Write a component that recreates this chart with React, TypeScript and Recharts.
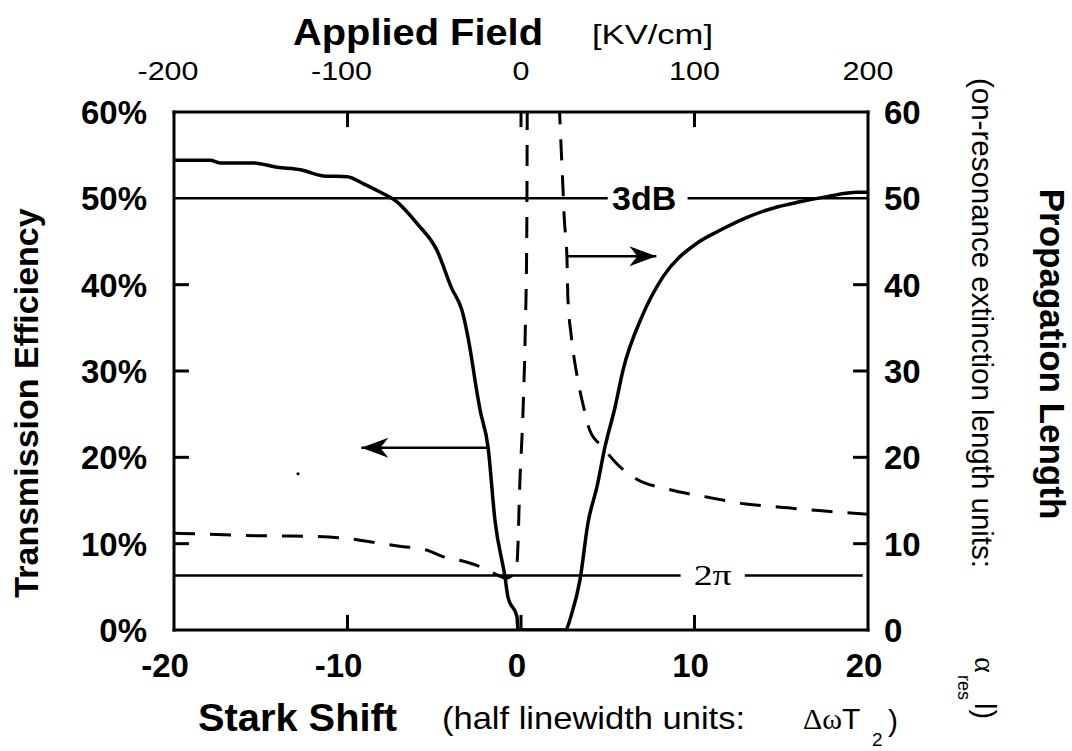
import React from 'react';
import { LineChart, Line, XAxis, YAxis, ReferenceLine, ReferenceDot } from 'recharts';

// transmission efficiency (left axis, %) vs stark shift
const solidShift = [-20, -17.9, -17.35, -15.45, -14.06, -12.7, -11.4, -10.0, -9.1, -8.1, -7.15, -6.0, -4.85, -4.0, -3.4, -2.8, -2.65, -2.36, -1.9, -1.5, -0.92, -0.75, -0.23, -0.17, 2.54, 2.94, 3.4, 3.86, 4.38, 4.84, 5.42, 5.88, 6.97, 8.18, 10.14, 11.47, 13.03, 14.76, 16.08, 17.64, 19.37, 20];
const solidEff = [54.4, 54.4, 54.1, 54.1, 53.6, 53.3, 52.6, 52.5, 51.7, 50.7, 49.6, 47.1, 44.0, 39.6, 37.0, 30.9, 28.9, 25.5, 21.2, 12.7, 6.1, 3.8, 1.5, 0, 0, 2.0, 5.8, 12.4, 16.6, 21.2, 25.8, 30.1, 36.3, 40.9, 44.8, 46.3, 47.8, 49.0, 49.6, 50.2, 50.7, 50.7];

// propagation length (right axis), branch below resonance
const dashLeftShift = [-20, -18, -16, -14, -12, -10, -8.5, -7, -5.5, -4.5, -3.2, -2.2, -1.4, -0.9, -0.5, -0.23, -0.06, 0.12, 0.25, 0.33, 0.36];
const dashLeftLen = [11.2, 11.1, 10.95, 10.9, 10.85, 10.6, 10.15, 9.7, 9.3, 8.5, 7.9, 7.2, 6.4, 6.0, 6.3, 7.8, 17.4, 25.5, 35, 45, 61];

// propagation length, branch above resonance
const dashRightShift = [2.2, 2.4, 2.5, 2.65, 2.7, 2.9, 3.2, 3.65, 3.95, 4.7, 5.55, 6.65, 8.5, 10.7, 12.95, 15.1, 17.35, 20];
const dashRightLen = [61, 52, 47.5, 43, 38.6, 34, 29.8, 25.5, 23.2, 21.2, 19.2, 17.5, 16.3, 15.4, 14.6, 14.2, 13.8, 13.4];

const bottomTicks = [-20, -10, 0, 10, 20];
const topTicks = [-200, -100, 0, 100, 200];
const leftTicks = [0, 10, 20, 30, 40, 50, 60];
const rightTicks = [0, 10, 20, 30, 40, 50, 60];
// inner tick marks: positions on the stark shift axis and on the level axes
const shiftMarks = [-10, 0, 10];
const levelMarks = [10, 20, 30, 40];
const markLenX = 0.86; // about 15px in stark shift units
const markLenY = 1.75; // about 15px in level units

const threeDb = 50;
const twoPi = 6.3;
const threeDbGap = [5.0, 9.6];
const threeDbLabelAt = 7.1;
const twoPiGap = [9.2, 12.9];
const twoPiEnd = 19.7;
const twoPiLabelAt = 11.05;

// arrows: [from shift, to shift, level]
const leftArrow = [-1.9, -9.2, 21.1];
const rightArrow = [2.7, 7.8, 43.3];
const speck = [-12.85, 18.1];

const zip = (xs: number[], ys: number[]) => xs.map((x, i) => ({ x, y: ys[i] }));
const solidData = zip(solidShift, solidEff);
const dashLeftData = zip(dashLeftShift, dashLeftLen);
const dashRightData = zip(dashRightShift, dashRightLen);

// tick marks as short two-point segments in data units
const tickSegments = [
  ...shiftMarks.map((s) => [{ x: s, y: 0 }, { x: s, y: markLenY }]),
  ...shiftMarks.map((s) => [{ x: s, y: 60 }, { x: s, y: 60 - markLenY }]),
  ...levelMarks.map((l) => [{ x: -20, y: l }, { x: -20 + markLenX, y: l }]),
  ...levelMarks.map((l) => [{ x: 20 - markLenX, y: l }, { x: 20, y: l }]),
];

const SANS = '"Liberation Sans", Arial, Helvetica, sans-serif';
const SERIF = '"Liberation Serif", "Times New Roman", serif';
const INK = '#000';
const axisStyle = { stroke: INK, strokeWidth: 3, strokeLinecap: 'square' as const };

function BottomTick({ x, y, payload }: any) {
  const v = Number(payload.value);
  return (
    <text x={x} y={y + 47} dx={v < 0 ? -9 : -4} textAnchor="middle" fontFamily={SANS} fontWeight="bold" fontSize={33} fill={INK}>
      {v}
    </text>
  );
}

function TopTick({ x, y, payload }: any) {
  const v = Number(payload.value);
  return (
    <text transform={`translate(${x + (v < 0 ? -6 : 0)},${y - 32}) scale(1.22,1)`} textAnchor="middle" fontFamily={SANS} fontSize={25} fill={INK}>
      {v}
    </text>
  );
}

function LeftTick({ x, y, payload }: any) {
  const v = Number(payload.value);
  return (
    <text x={x - 27} y={y + 12} textAnchor="end" fontFamily={SANS} fontWeight="bold" fontSize={33} fill={INK}>
      {`${v}%`}
    </text>
  );
}

function RightTick({ x, y, payload }: any) {
  const v = Number(payload.value);
  return (
    <text x={x + 16} y={y + 12} textAnchor="start" fontFamily={SANS} fontWeight="bold" fontSize={33} fill={INK}>
      {v}
    </text>
  );
}

const headRight = (p: any) => <path d={`M${p.cx},${p.cy} l-27,-10 l8,10 l-8,10 z`} fill={INK} />;
const headLeft = (p: any) => <path d={`M${p.cx},${p.cy} l27,-10 l-8,10 l8,10 z`} fill={INK} />;

export default function App() {
  return (
    <div style={{ position: 'absolute', left: 0, top: 0, width: 1072, height: 751, background: '#fff' }}>
      <LineChart width={1072} height={751} margin={{ top: 111, right: 203, bottom: 120, left: 173 }}>
        <XAxis xAxisId="bottom" type="number" dataKey="x" domain={[-20, 20]} ticks={bottomTicks} interval={0} allowDataOverflow
          height={1} tickSize={0} tickMargin={0} tickLine={false} axisLine={axisStyle} tick={(p: any) => <BottomTick {...p} />} />
        <XAxis xAxisId="top" orientation="top" type="number" dataKey="x" domain={[-200, 200]} ticks={topTicks} interval={0} allowDataOverflow
          height={1} tickSize={0} tickMargin={0} tickLine={false} axisLine={axisStyle} tick={(p: any) => <TopTick {...p} />} />
        <YAxis yAxisId="left" type="number" domain={[0, 60]} ticks={leftTicks} interval={0} allowDataOverflow
          width={1} tickSize={0} tickMargin={0} tickLine={false} axisLine={axisStyle} tick={(p: any) => <LeftTick {...p} />} />
        <YAxis yAxisId="right" orientation="right" type="number" domain={[0, 60]} ticks={rightTicks} interval={0} allowDataOverflow
          width={1} tickSize={0} tickMargin={0} tickLine={false} axisLine={axisStyle} tick={(p: any) => <RightTick {...p} />} />

        {/* 3dB level */}
        <ReferenceLine xAxisId="bottom" yAxisId="left" ifOverflow="visible" segment={[{ x: -20, y: threeDb }, { x: threeDbGap[0], y: threeDb }]} stroke={INK} strokeWidth={2.5} />
        <ReferenceLine xAxisId="bottom" yAxisId="left" ifOverflow="visible" segment={[{ x: threeDbGap[1], y: threeDb }, { x: 20, y: threeDb }]} stroke={INK} strokeWidth={2.5} />
        <ReferenceDot xAxisId="bottom" yAxisId="left" x={threeDbLabelAt} y={threeDb} r={0}
          shape={(p: any) => (
            <text x={p.cx} y={p.cy + 12} textAnchor="middle" fontFamily={SANS} fontWeight="bold" fontSize={34} fill={INK}>3dB</text>
          )} />

        {/* 2 pi propagation length */}
        <ReferenceLine xAxisId="bottom" yAxisId="right" ifOverflow="visible" segment={[{ x: -20, y: twoPi }, { x: twoPiGap[0], y: twoPi }]} stroke={INK} strokeWidth={2.5} />
        <ReferenceLine xAxisId="bottom" yAxisId="right" ifOverflow="visible" segment={[{ x: twoPiGap[1], y: twoPi }, { x: twoPiEnd, y: twoPi }]} stroke={INK} strokeWidth={2.5} />
        <ReferenceDot xAxisId="bottom" yAxisId="right" x={twoPiLabelAt} y={twoPi} r={0}
          shape={(p: any) => (
            <text x={p.cx} y={p.cy + 9} textAnchor="middle" fontFamily={SERIF} fontSize={30} textLength={38} lengthAdjust="spacingAndGlyphs" fill={INK}>2π</text>
          )} />

        {/* arrows */}
        <ReferenceLine xAxisId="bottom" yAxisId="left" segment={[{ x: leftArrow[0], y: leftArrow[2] }, { x: leftArrow[1], y: leftArrow[2] }]} stroke={INK} strokeWidth={2.5} />
        <ReferenceDot xAxisId="bottom" yAxisId="left" x={leftArrow[1]} y={leftArrow[2]} r={0} shape={headLeft} />
        <ReferenceLine xAxisId="bottom" yAxisId="right" segment={[{ x: rightArrow[0], y: rightArrow[2] }, { x: rightArrow[1], y: rightArrow[2] }]} stroke={INK} strokeWidth={2.5} />
        <ReferenceDot xAxisId="bottom" yAxisId="right" x={rightArrow[1]} y={rightArrow[2]} r={0} shape={headRight} />
        <ReferenceDot xAxisId="bottom" yAxisId="left" x={speck[0]} y={speck[1]} r={1.6} fill={INK} stroke="none" />

        {/* inward tick marks */}
        {tickSegments.map((seg, i) => (
          <Line key={`tick${i}`} xAxisId="bottom" yAxisId="left" data={seg} dataKey="y" type="linear" stroke={INK} strokeWidth={3}
            dot={false} activeDot={false} isAnimationActive={false} />
        ))}

        <Line xAxisId="bottom" yAxisId="left" data={solidData} dataKey="y" type="monotone" stroke={INK} strokeWidth={3.5}
          dot={false} activeDot={false} isAnimationActive={false} />
        <Line xAxisId="bottom" yAxisId="right" data={dashLeftData} dataKey="y" type="monotone" stroke={INK} strokeWidth={3}
          strokeDasharray="21 15" dot={false} activeDot={false} isAnimationActive={false} />
        <Line xAxisId="bottom" yAxisId="right" data={dashRightData} dataKey="y" type="monotone" stroke={INK} strokeWidth={3}
          strokeDasharray="21 15" dot={false} activeDot={false} isAnimationActive={false} />
      </LineChart>

      <svg width={1072} height={751} style={{ position: 'absolute', left: 0, top: 0, pointerEvents: 'none' }}>
        <text x={293} y={45} fontFamily={SANS} fontWeight="bold" fontSize={37} textLength={250} lengthAdjust="spacingAndGlyphs" fill={INK}>Applied Field</text>
        <text x={592} y={44} fontFamily={SANS} fontSize={27} textLength={121} lengthAdjust="spacingAndGlyphs" fill={INK}>[KV/cm]</text>

        <text transform="translate(38,403) rotate(-90)" textAnchor="middle" fontFamily={SANS} fontWeight="bold" fontSize={34} fill={INK}>Transmission Efficiency</text>
        <text transform="translate(1040,354) rotate(90)" textAnchor="middle" fontFamily={SANS} fontWeight="bold" fontSize={35} fill={INK}>Propagation Length</text>

        <text transform="translate(972,78) rotate(90)" fontFamily={SANS} fontSize={29} textLength={490} lengthAdjust="spacingAndGlyphs" fill={INK}>(on-resonance extinction length units:</text>
        <text transform="translate(975,657) rotate(90)" fontFamily={SERIF} fontSize={30} fill={INK}>α</text>
        <text transform="translate(958,675) rotate(90)" fontFamily={SANS} fontSize={18} fill={INK}>res</text>
        <text transform="translate(975,703) rotate(90)" fontFamily={SANS} fontSize={29} fill={INK}>l)</text>

        <text x={198} y={731} fontFamily={SANS} fontWeight="bold" fontSize={39} textLength={199} lengthAdjust="spacingAndGlyphs" fill={INK}>Stark Shift</text>
        <text x={442} y={729} fontFamily={SANS} fontSize={32} textLength={303} lengthAdjust="spacingAndGlyphs" fill={INK}>(half linewidth units:</text>
        <text x={803} y={729} fontFamily={SANS} fontSize={30} fill={INK}>
          <tspan fontFamily={SERIF}>Δω</tspan>
          <tspan>T</tspan>
        </text>
        <text x={872} y={746} fontFamily={SANS} fontSize={19} fill={INK}>2</text>
        <text x={888} y={731} fontFamily={SANS} fontSize={30} fill={INK}>)</text>
      </svg>
    </div>
  );
}
